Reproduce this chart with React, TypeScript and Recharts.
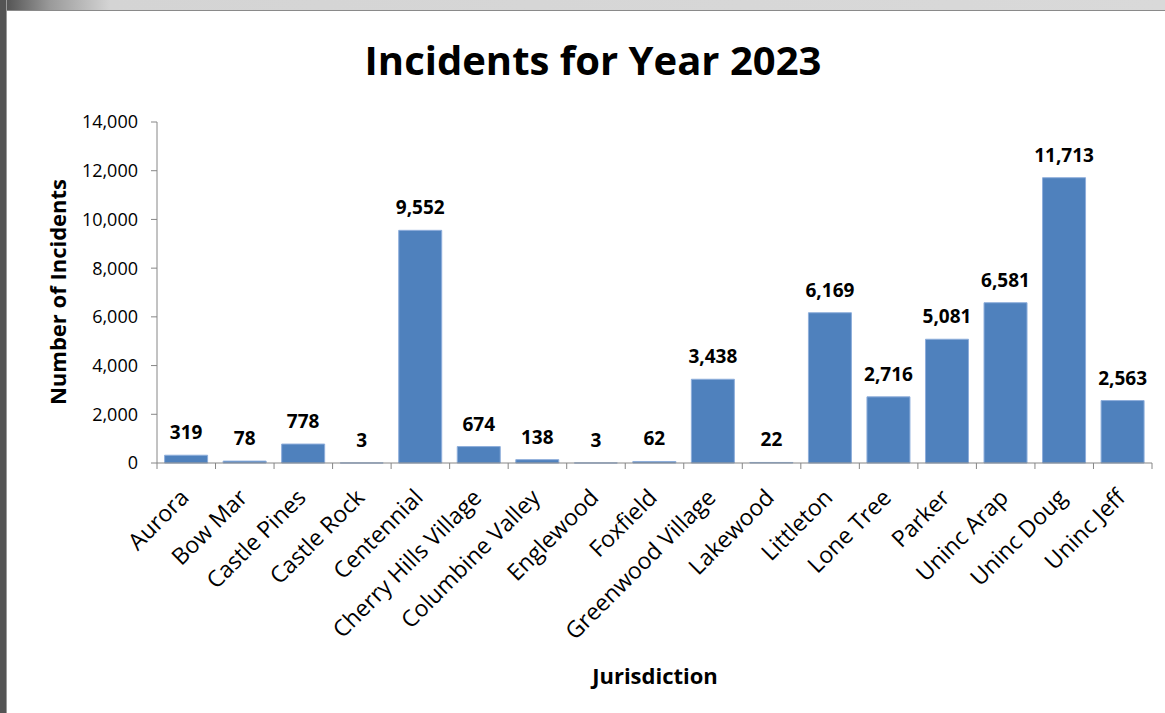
import React from "react";
import { BarChart, Bar, XAxis, YAxis, LabelList } from "recharts";

const jurisdictions = [
  "Aurora",
  "Bow Mar",
  "Castle Pines",
  "Castle Rock",
  "Centennial",
  "Cherry Hills Village",
  "Columbine Valley",
  "Englewood",
  "Foxfield",
  "Greenwood Village",
  "Lakewood",
  "Littleton",
  "Lone Tree",
  "Parker",
  "Uninc Arap",
  "Uninc Doug",
  "Uninc Jeff",
];
const incidents = [319, 78, 778, 3, 9552, 674, 138, 3, 62, 3438, 22, 6169, 2716, 5081, 6581, 11713, 2563];
const yTicks = [0, 2000, 4000, 6000, 8000, 10000, 12000, 14000];

const data = jurisdictions.map((name, i) => ({ name, value: incidents[i] }));

const W = 1165;
const H = 713;
const margin = { top: 122, right: 13, bottom: 240, left: 97 };
const yAxisW = 60;
const plotW = W - margin.left - yAxisW - margin.right;
const band = plotW / jurisdictions.length;
const FONT = "'Open Sans', sans-serif";
const AXIS = "#868686";

const fmt = (v: number) => v.toLocaleString("en-US");

function CatTick(props: any) {
  const { x, y, payload, index } = props;
  const tx = x + 4;
  const ty = y + 36;
  return (
    <g>
      <line x1={x - band / 2} y1={y} x2={x - band / 2} y2={y + 6} stroke={AXIS} />
      {index === jurisdictions.length - 1 && (
        <line x1={x + band / 2} y1={y} x2={x + band / 2} y2={y + 6} stroke={AXIS} />
      )}
      <text
        x={tx}
        y={ty}
        transform={`rotate(-45, ${tx}, ${ty})`}
        textAnchor="end"
        fontFamily={FONT}
        fontSize={23}
        fill="#000"
      >
        {payload.value}
      </text>
    </g>
  );
}

export default function App() {
  return (
    <div style={{ position: "absolute", left: 0, top: 0, width: W, height: H, background: "#fff", fontFamily: FONT }}>
      {/* window frame */}
      <div
        style={{
          position: "absolute",
          left: 0,
          top: 0,
          width: W,
          height: 10,
          background: "linear-gradient(to right, #4a4a4a 0px, #9a9a9a 50px, #d4d4d4 110px, #d9d9d9 100%)",
          borderBottom: "1px solid #8a8a8a",
        }}
      />
      <div
        style={{
          position: "absolute",
          left: 0,
          top: 0,
          width: 6,
          height: H,
          background: "#545454",
          borderRight: "1px solid #9a9a9a",
        }}
      />

      <div
        style={{
          position: "absolute",
          left: 0,
          width: 1186,
          top: 32,
          textAlign: "center",
          fontSize: 40,
          fontWeight: 700,
          color: "#000",
        }}
      >
        Incidents for Year 2023
      </div>

      <div
        style={{
          position: "absolute",
          left: 57,
          top: 292,
          transform: "translate(-50%, -50%) rotate(-90deg)",
          whiteSpace: "nowrap",
          fontSize: 22,
          fontWeight: 700,
          color: "#000",
        }}
      >
        Number of Incidents
      </div>

      <div
        style={{
          position: "absolute",
          left: 655,
          top: 675,
          transform: "translate(-50%, -50%)",
          whiteSpace: "nowrap",
          fontSize: 22,
          fontWeight: 700,
          color: "#000",
        }}
      >
        Jurisdiction
      </div>

      <div style={{ position: "absolute", left: 0, top: 0 }}>
        <BarChart width={W} height={H} data={data} margin={margin} barCategoryGap="13%">
          <XAxis
            dataKey="name"
            interval={0}
            stroke={AXIS}
            tickLine={false}
            tickSize={0}
            tickMargin={0}
            tick={<CatTick />}
            height={10}
          />
          <YAxis
            width={yAxisW}
            domain={[0, 14000]}
            ticks={yTicks}
            stroke={AXIS}
            tickSize={6}
            tickMargin={13}
            tickFormatter={fmt}
            tick={{ fill: "#000", fontSize: 18, fontFamily: FONT }}
          />
          <Bar dataKey="value" fill="#4f81bd" stroke="#8eaedb" strokeWidth={1} isAnimationActive={false}>
            <LabelList
              dataKey="value"
              position="top"
              offset={16}
              formatter={(v: any) => fmt(Number(v))}
              style={{ fill: "#000", fontSize: 19, fontWeight: 700, fontFamily: FONT }}
            />
          </Bar>
        </BarChart>
      </div>
    </div>
  );
}
